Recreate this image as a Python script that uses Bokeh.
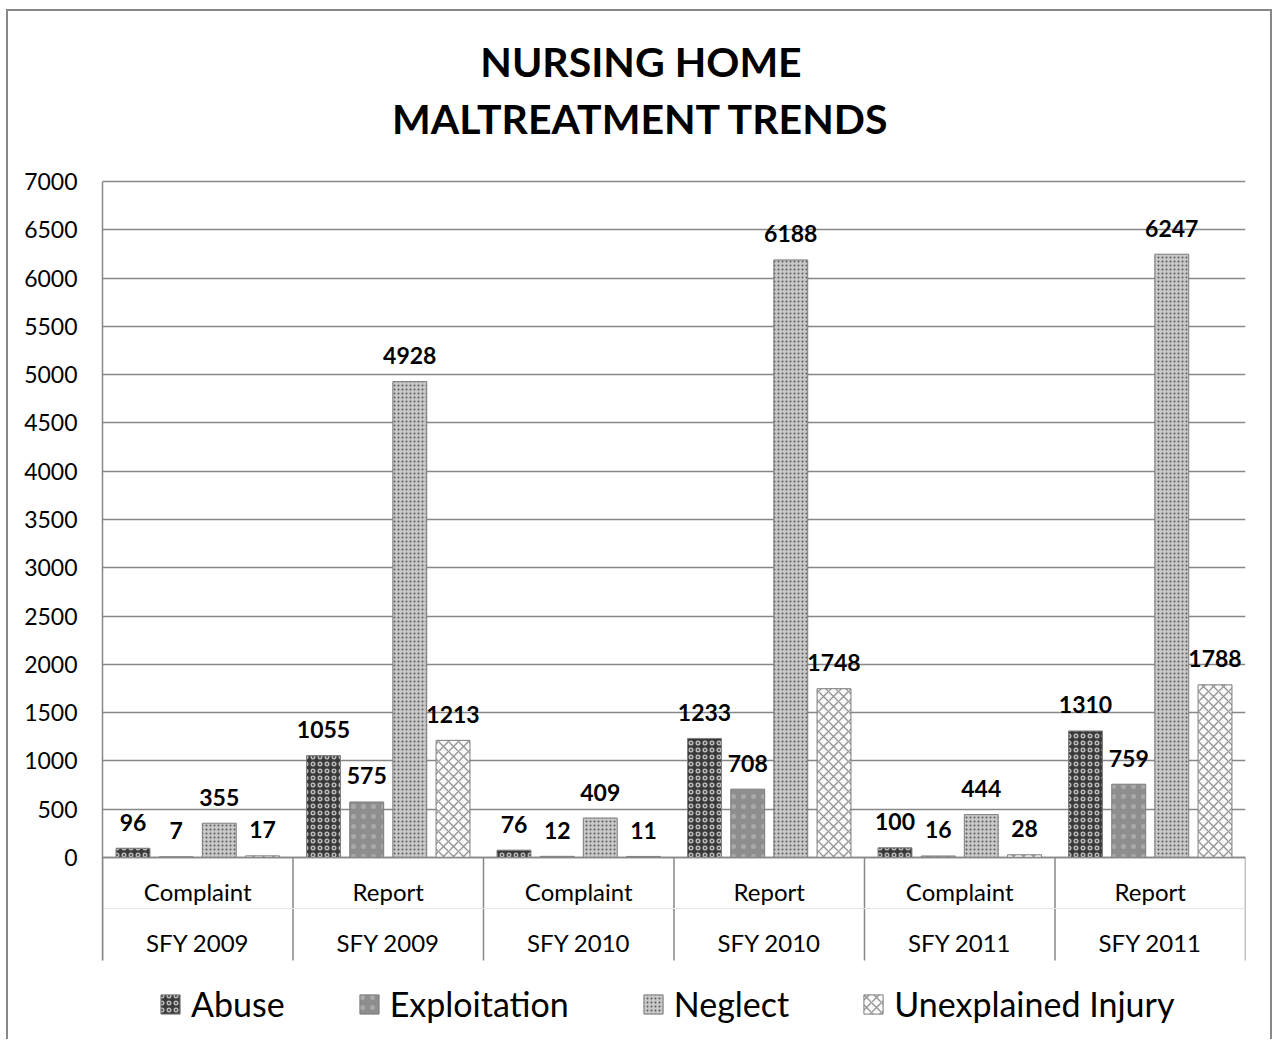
import math
from bokeh.plotting import figure
from bokeh.models import (Range1d, FixedTicker, Legend, LegendItem, ColumnDataSource)
from bokeh.transform import dodge
from bokeh.core.properties import value
from bokeh.embed import file_html
from bokeh.resources import INLINE

# ---- data ----
categories = ["Complaint", "Report", "Complaint", "Report", "Complaint", "Report"]
years = ["SFY 2009", "SFY 2009", "SFY 2010", "SFY 2010", "SFY 2011", "SFY 2011"]
abuse = [96, 1055, 76, 1233, 100, 1310]
exploitation = [7, 575, 12, 708, 16, 759]
neglect = [355, 4928, 409, 6188, 444, 6247]
unexplained = [17, 1213, 11, 1748, 28, 1788]
series_names = ["Abuse", "Exploitation", "Neglect", "Unexplained Injury"]
title_lines = ["NURSING HOME", "MALTREATMENT TRENDS"]
y_ticks = list(range(0, 7001, 500))
Y_MAX = 7000

FONT = "Lato"
GRAY = "#878787"

# ---- layout geometry (pixels) ----
CANVAS_H = 1030
PLOT_TOP_PX = 170      # from canvas top to the 7000 line
PLOT_H_PX = 676        # 0 .. 7000
BELOW_PX = CANVAS_H - PLOT_TOP_PX - PLOT_H_PX
ppu = PLOT_H_PX / Y_MAX
y_lo = -BELOW_PX / ppu
y_hi = Y_MAX + PLOT_TOP_PX / ppu
SEP_PX = 103
ROW_PX = 51

x_pos = [i + 0.5 for i in range(len(categories))]
n_cat = len(categories)
src = ColumnDataSource(dict(
    x=x_pos, cat=categories, yr=years,
    abuse=abuse, exploitation=exploitation, neglect=neglect, unexplained=unexplained,
    abuse_l=[str(v) for v in abuse], exploitation_l=[str(v) for v in exploitation],
    neglect_l=[str(v) for v in neglect], unexplained_l=[str(v) for v in unexplained],
))

p = figure(width=1266, height=CANVAS_H, x_range=Range1d(0, n_cat), y_range=Range1d(y_lo, y_hi),
           output_backend="svg", toolbar_location=None, x_axis_location=None,
           min_border_left=94, min_border_right=29, min_border_top=0, min_border_bottom=0)
p.styles = {"border-left": "2px solid #878787", "border-top": "2px solid #878787",
            "border-right": "2px solid #878787", "margin-left": "6px", "margin-top": "9px"}
p.outline_line_color = None
p.background_fill_color = "white"
p.border_fill_color = "white"

# y axis
ya = p.yaxis[0]
ya.ticker = FixedTicker(ticks=y_ticks)
ya.bounds = (-SEP_PX / ppu, Y_MAX)
ya.axis_line_color = GRAY
ya.axis_line_width = 1.5
ya.major_tick_out = 0
ya.major_tick_in = 0
ya.minor_tick_out = 0
ya.minor_tick_in = 0
ya.major_label_standoff = 25
ya.major_label_text_font = FONT
ya.major_label_text_font_size = "23px"
ya.major_label_text_color = "black"

p.xgrid.visible = False
p.ygrid.ticker = FixedTicker(ticks=y_ticks)
p.ygrid.grid_line_color = GRAY
p.ygrid.grid_line_width = 1.5

# title
p.text(x=[n_cat / 2] * 2, y=[Y_MAX] * 2, text=title_lines, x_offset=-33, y_offset=[-120, -63],
       text_align="center", text_baseline="middle", text_font=value(FONT),
       text_font_size="41px", text_font_style="bold", text_color="black")

# category axis: separators, row divider and the two label rows
bounds = list(range(n_cat + 1))
p.segment(x0=bounds, y0=[0] * len(bounds), x1=bounds, y1=[-SEP_PX / ppu] * len(bounds),
          line_color=GRAY, line_width=1.5)
p.segment(x0=[0], y0=[-ROW_PX / ppu], x1=[n_cat], y1=[-ROW_PX / ppu],
          line_color="#e4e4e4", line_width=1)
p.text(x="x", y=0, text="cat", source=src, y_offset=34, text_align="center",
       text_baseline="middle", text_font=value(FONT), text_font_size="24px", text_color="black")
p.text(x="x", y=0, text="yr", source=src, y_offset=85, text_align="center",
       text_baseline="middle", text_font=value(FONT), text_font_size="24px", text_color="black")

# bars
cols = ["abuse", "exploitation", "neglect", "unexplained"]
offsets = [-0.34, -0.113, 0.113, 0.34]
styles = [
    dict(fill_color="#3a3a3a", hatch_pattern="o", hatch_color="#b8b8b8", hatch_scale=7, hatch_weight=1.5),
    dict(fill_color="#8e8e8e", hatch_pattern=".", hatch_color="#a9a9a9", hatch_scale=10, hatch_weight=0.8),
    dict(fill_color="#c8c8c8", hatch_pattern=".", hatch_color="#5a5a5a", hatch_scale=4, hatch_weight=1),
    dict(fill_color="#fafafa", hatch_pattern="x", hatch_color="#939393", hatch_scale=10, hatch_weight=1.3),
]
renderers = []
for col, off, st in zip(cols, offsets, styles):
    r = p.vbar(x=dodge("x", off), top=col, width=0.178, source=src,
               line_color="#7d7d7d", line_width=1, **st)
    renderers.append(r)
    p.text(x=dodge("x", off), y=col, text=col + "_l", source=src,
           text_align="center", text_baseline="middle", y_offset=-26,
           text_font=value(FONT), text_font_size="23px", text_font_style="bold",
           text_color="black")

# x-axis line at zero
p.segment(x0=[0], y0=[0], x1=[n_cat], y1=[0], line_color=GRAY, line_width=1.5)

legend = Legend(items=[LegendItem(label=n, renderers=[r]) for n, r in zip(series_names, renderers)],
                orientation="horizontal", location=(56, 17))
legend.border_line_color = None
legend.background_fill_alpha = 0
legend.padding = 0
legend.margin = 0
legend.glyph_width = 24
legend.glyph_height = 24
legend.label_standoff = 9
legend.spacing = 72
legend.label_text_font = FONT
legend.label_text_font_size = "34px"
legend.label_text_color = "black"
p.add_layout(legend)

open("out.html", "w").write(file_html(p, INLINE))
